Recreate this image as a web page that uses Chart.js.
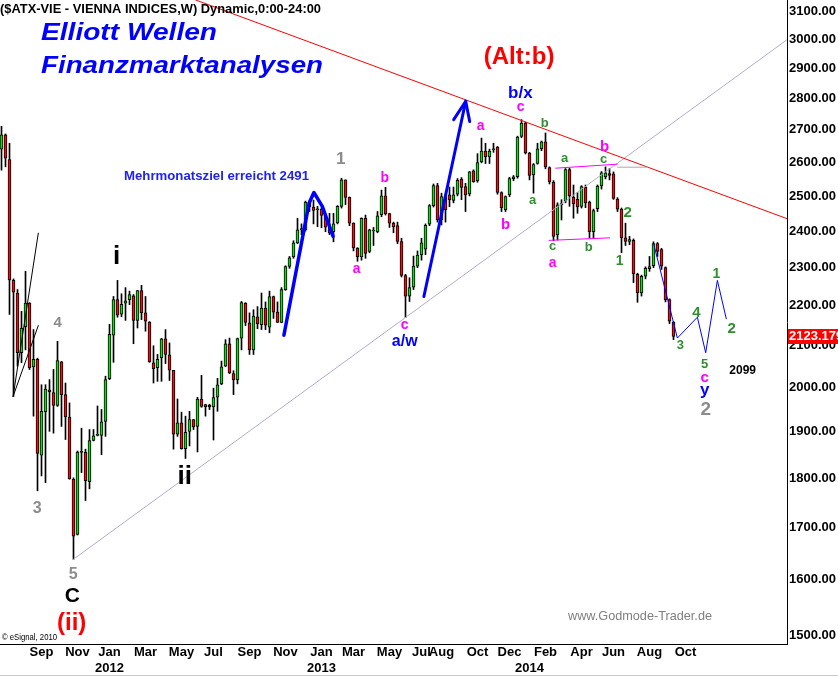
<!DOCTYPE html>
<html>
<head>
<meta charset="utf-8">
<script src="https://cdn.jsdelivr.net/npm/chart.js@4.4.1/dist/chart.umd.min.js"></script>
<style>
  html, body { margin: 0; padding: 0; background: #fff; }
  #wrap { width: 838px; height: 677px; position: relative; }
</style>
</head>
<body>
<div id="wrap"><canvas id="chart"></canvas></div>
<script>
"use strict";

// weekly ATX candles, first bar = week of 2011-06-27
var firstWeek = '2011-06-27';

var opens = [
    2640, 2684, 2608, 2266, 2233, 2083, 2147, 2207, 2049, 2067,
    1849, 1945, 1995, 1989, 1959, 2061, 1984, 1933, 1798, 1686,
    1856, 1855, 1793, 1881, 1892, 1892, 1923, 2021, 2126, 2216,
    2179, 2207, 2216, 2226, 2163, 2239, 2182, 2159, 2059, 2047,
    2071, 2117, 2078, 2041, 1895, 1920, 1863, 1901, 1927, 1912,
    1974, 1961, 1960, 1956, 1978, 2009, 2051, 2105, 2033, 2018,
    2119, 2207, 2157, 2090, 2172, 2152, 2194, 2146, 2224, 2184,
    2158, 2242, 2303, 2329, 2367, 2403, 2403, 2482, 2468, 2460,
    2462, 2441, 2408, 2398, 2423, 2470, 2547, 2496, 2422, 2353,
    2329, 2436, 2344, 2400, 2398, 2446, 2500, 2449, 2422, 2415,
    2371, 2279, 2225, 2248, 2304, 2334, 2350, 2419, 2472, 2530,
    2431, 2498, 2503, 2487, 2505, 2549, 2527, 2506, 2574, 2544,
    2601, 2634, 2616, 2638, 2646, 2510, 2460, 2503, 2551, 2557,
    2679, 2721, 2628, 2562, 2596, 2641, 2662, 2584, 2540, 2389,
    2474, 2485, 2578, 2496, 2490, 2470, 2525, 2482, 2398, 2463,
    2529, 2556, 2566, 2565, 2491, 2462, 2381, 2371, 2374, 2282,
    2233, 2277, 2297, 2305, 2365, 2349, 2300, 2216, 2158
];
var highs = [
    2711, 2687, 2658, 2270, 2242, 2186, 2290, 2208, 2140, 2070,
    2007, 2007, 2019, 2043, 2111, 2062, 2011, 1965, 1801, 1858,
    1908, 1862, 1905, 1905, 1958, 1950, 2027, 2153, 2224, 2266,
    2231, 2247, 2238, 2229, 2240, 2253, 2224, 2160, 2100, 2079,
    2118, 2140, 2107, 2041, 1974, 1944, 1935, 1946, 1928, 1978,
    2029, 1962, 1962, 1999, 2022, 2063, 2115, 2119, 2040, 2119,
    2211, 2208, 2182, 2190, 2198, 2233, 2210, 2238, 2225, 2210,
    2247, 2305, 2330, 2373, 2436, 2420, 2485, 2488, 2488, 2470,
    2466, 2441, 2450, 2450, 2472, 2552, 2547, 2497, 2423, 2354,
    2437, 2445, 2405, 2410, 2455, 2517, 2525, 2450, 2425, 2425,
    2380, 2282, 2273, 2331, 2345, 2380, 2420, 2475, 2535, 2537,
    2508, 2505, 2526, 2526, 2551, 2554, 2537, 2572, 2577, 2626,
    2674, 2658, 2640, 2658, 2648, 2512, 2500, 2555, 2560, 2680,
    2732, 2724, 2630, 2596, 2658, 2665, 2690, 2586, 2545, 2480,
    2489, 2581, 2582, 2532, 2510, 2530, 2532, 2485, 2462, 2532,
    2572, 2586, 2581, 2571, 2495, 2465, 2422, 2385, 2378, 2285,
    2280, 2302, 2330, 2370, 2368, 2352, 2302, 2218, 2160
];
var lows = [
    2576, 2586, 2178, 1980, 2051, 2059, 2090, 2043, 1935, 1774,
    1805, 1791, 1901, 1897, 1957, 1912, 1883, 1798, 1638, 1685,
    1812, 1754, 1778, 1880, 1891, 1850, 1890, 2019, 2060, 2171,
    2172, 2163, 2203, 2105, 2144, 2165, 2136, 2060, 2011, 2015,
    2015, 2057, 2017, 1862, 1890, 1862, 1842, 1869, 1905, 1856,
    1955, 1935, 1950, 1882, 1946, 2007, 2050, 2033, 1984, 2009,
    2090, 2150, 2079, 2079, 2142, 2140, 2140, 2132, 2168, 2158,
    2157, 2240, 2298, 2325, 2365, 2390, 2400, 2455, 2420, 2412,
    2409, 2398, 2390, 2370, 2420, 2465, 2475, 2415, 2345, 2317,
    2320, 2325, 2340, 2360, 2395, 2440, 2445, 2410, 2395, 2365,
    2275, 2170, 2211, 2242, 2300, 2320, 2335, 2415, 2468, 2425,
    2417, 2425, 2469, 2480, 2500, 2489, 2455, 2500, 2540, 2540,
    2598, 2596, 2596, 2630, 2505, 2455, 2455, 2498, 2545, 2552,
    2675, 2625, 2547, 2508, 2594, 2635, 2580, 2535, 2373, 2375,
    2431, 2480, 2470, 2436, 2450, 2465, 2466, 2381, 2381, 2455,
    2520, 2550, 2547, 2490, 2455, 2340, 2360, 2362, 2260, 2209,
    2225, 2270, 2290, 2300, 2330, 2295, 2210, 2155, 2115
];
var closes = [
    2684, 2612, 2267, 2235, 2083, 2144, 2207, 2047, 2067, 1853,
    1946, 1997, 1990, 1959, 2064, 1984, 1933, 1799, 1683, 1856,
    1855, 1795, 1881, 1891, 1894, 1922, 2019, 2128, 2216, 2176,
    2204, 2213, 2229, 2163, 2239, 2182, 2161, 2061, 2045, 2067,
    2117, 2079, 2041, 1895, 1920, 1863, 1899, 1927, 1911, 1974,
    1957, 1956, 1956, 1977, 2007, 2049, 2105, 2035, 2018, 2118,
    2208, 2158, 2090, 2174, 2155, 2194, 2151, 2224, 2184, 2158,
    2242, 2303, 2326, 2367, 2403, 2407, 2482, 2468, 2458, 2462,
    2444, 2411, 2395, 2420, 2470, 2547, 2496, 2422, 2353, 2329,
    2436, 2338, 2403, 2402, 2443, 2500, 2449, 2422, 2412, 2371,
    2279, 2225, 2247, 2304, 2334, 2367, 2416, 2472, 2530, 2431,
    2498, 2460, 2489, 2503, 2546, 2525, 2503, 2571, 2542, 2599,
    2634, 2616, 2634, 2641, 2510, 2466, 2498, 2551, 2556, 2677,
    2721, 2628, 2560, 2593, 2641, 2662, 2586, 2542, 2385, 2474,
    2478, 2578, 2500, 2477, 2468, 2527, 2480, 2398, 2458, 2529,
    2568, 2568, 2560, 2493, 2462, 2381, 2371, 2376, 2284, 2233,
    2277, 2299, 2303, 2365, 2344, 2304, 2216, 2161, 2123.179
];

var priceTicks = [1500, 1600, 1700, 1800, 1900, 2000, 2100, 2200, 2300, 2400,
                  2500, 2600, 2700, 2800, 2900, 3000, 3100];

var tickDates = ['2011-09-05', '2011-11-07', '2012-01-02', '2012-03-05', '2012-05-07',
                 '2012-07-02', '2012-09-03', '2012-11-05', '2013-01-07', '2013-03-04',
                 '2013-05-06', '2013-07-01', '2013-08-05', '2013-10-07', '2013-12-02',
                 '2014-01-06', '2014-02-03', '2014-04-07', '2014-06-02', '2014-08-04',
                 '2014-10-06'];
var tickMonths = ['Sep', 'Nov', 'Jan', 'Mar', 'May', 'Jul', 'Sep', 'Nov', 'Jan', 'Mar',
                  'May', 'Jul', 'Aug', 'Oct', 'Dec', '', 'Feb', 'Apr', 'Jun', 'Aug', 'Oct'];
var tickYears = ['', '', '2012', '', '', '', '', '', '2013', '',
                 '', '', '', '', '', '2014', '', '', '', '', ''];

// drawn lines, points as [week, price]
var redTrend = [[48.55, 3140], [196.55, 2434]];
var baseTrend = [[17.95, 1638], [196.55, 3000]];
var wedgeUpper = [[2.9, 1980], [9.2, 2394]];
var wedgeLower = [[2.9, 1980], [9.2, 2150]];
var targetArch = [[70.6, 2126], [76.9, 2479], [78.1, 2510], [80.2, 2470], [82.9, 2385]];
var rallyArrow = [[105.6, 2224], [116.05, 2791]];
var arrowHead = [[113.05, 2732], [116.05, 2791], [117.05, 2726]];
var forecast = [[163.1, 2362], [168.97, 2119], [173.97, 2171], [176.05, 2083], [178.97, 2266], [181.2, 2167]];
var rangeTop = [[138.55, 2582], [153.95, 2594]];
var rangeTopExt = [[154.05, 2585], [161.55, 2585]];
var rangeBottom = [[136.9, 2374], [152.05, 2381]];

var lastPrice = 2123.179;

// wave labels: text, week, price, size, colour
var MAG = '#ff00ff', GRN = '#2f8f2f', GRY = '#8c8c8c', BLU = '#0000ff';
var waveLabels = [
    ['(Alt:b)', 129.4, 2936, 24, '#ff0000'],
    ['b/x', 129.7, 2817, 17, BLU],
    ['c', 129.8, 2771, 14, MAG],
    ['1', 84.8, 2609, 17, GRY],
    ['b', 95.8, 2553, 14, MAG],
    ['a', 88.8, 2297, 14, MAG],
    ['c', 100.8, 2152, 14, MAG],
    ['a/w', 100.8, 2110, 16, BLU],
    ['a', 119.8, 2710, 14, MAG],
    ['b', 126.05, 2417, 15, MAG],
    ['b', 135.8, 2719, 13, GRN],
    ['a', 132.8, 2486, 13, GRN],
    ['c', 137.8, 2357, 13, GRN],
    ['a', 137.8, 2311, 14, MAG],
    ['a', 140.8, 2612, 13, GRN],
    ['b', 150.8, 2647, 15, MAG],
    ['c', 150.55, 2609, 13, GRN],
    ['b', 146.8, 2354, 13, GRN],
    ['2', 156.55, 2451, 15, GRN],
    ['1', 154.55, 2316, 14, GRN],
    ['3', 169.7, 2100, 13, GRN],
    ['4', 173.7, 2182, 15, GRN],
    ['1', 178.7, 2282, 14, GRN],
    ['2', 182.55, 2141, 15, GRN],
    ['5', 175.8, 2054, 13, GRN],
    ['c', 175.8, 2023, 15, MAG],
    ['y', 175.8, 1993, 17, BLU],
    ['2', 176.05, 1950, 19, GRY],
    ['2099', 185.3, 2040, 12, '#000000'],
    ['4', 14.05, 2158, 15, GRY],
    ['i', 28.8, 2329, 26, '#000000'],
    ['3', 8.9, 1737, 16, GRY],
    ['5', 17.9, 1609, 16, GRY],
    ['C', 17.7, 1570, 21, '#000000'],
    ['(ii)', 17.55, 1521, 24, '#ff0000'],
    ['ii', 45.8, 1804, 26, '#000000']
];

var FONT = '"Liberation Sans", Arial, sans-serif';

function weekIndex(d) {
    return Math.round((Date.parse(d) - Date.parse(firstWeek)) / (7 * 86400000));
}

var tickWeeks = tickDates.map(weekIndex);
var tickLabels = tickMonths.map(function (m, i) {
    return tickYears[i] ? [m, tickYears[i]] : m;
});

var bodies = [], wicks = [], bodyColors = [];
for (var i = 0; i < closes.length; i++) {
    bodies.push({ x: i, y: [Math.min(opens[i], closes[i]), Math.max(opens[i], closes[i])] });
    wicks.push({ x: i, y: [lows[i], highs[i]] });
    bodyColors.push(closes[i] >= opens[i] ? '#11dd11' : '#ee1111');
}

function drawText(ctx, s, x, y, font, color, opts) {
    opts = opts || {};
    ctx.save();
    ctx.font = font;
    ctx.fillStyle = color;
    ctx.textAlign = opts.align || 'center';
    ctx.textBaseline = opts.baseline || 'middle';
    if (opts.width) {
        var w = ctx.measureText(s).width;
        ctx.translate(x, y);
        ctx.scale(opts.width / w, 1);
        ctx.fillText(s, 0, 0);
    } else {
        ctx.fillText(s, x, y);
    }
    ctx.restore();
}

var annotate = {
    id: 'annotate',
    afterDatasetsDraw: function (chart) {
        var ctx = chart.ctx, a = chart.chartArea;
        var xs = chart.scales.x, ys = chart.scales.y;

        function poly(pts, color, width) {
            ctx.beginPath();
            pts.forEach(function (p, k) {
                var px = xs.getPixelForValue(p[0]), py = ys.getPixelForValue(p[1]);
                if (k === 0) ctx.moveTo(px, py); else ctx.lineTo(px, py);
            });
            ctx.strokeStyle = color;
            ctx.lineWidth = width;
            ctx.stroke();
        }

        ctx.save();
        ctx.beginPath();
        ctx.rect(a.left, a.top, a.right - a.left, a.bottom - a.top);
        ctx.clip();
        ctx.lineJoin = 'round';
        ctx.lineCap = 'round';

        poly(baseTrend, '#b9a9c9', 1);
        poly(redTrend, '#ff0000', 1);
        poly(wedgeUpper, '#000000', 1);
        poly(wedgeLower, '#000000', 1);
        poly(rangeTop, MAG, 1);
        poly(rangeBottom, MAG, 1);
        poly(rangeTopExt, '#a8a8a8', 1);
        poly(targetArch, BLU, 3.5);
        poly(rallyArrow, BLU, 3);
        poly(arrowHead, BLU, 3);
        poly(forecast, BLU, 1);

        waveLabels.forEach(function (l) {
            drawText(ctx, l[0], xs.getPixelForValue(l[1]), ys.getPixelForValue(l[2]),
                'bold ' + l[3] + 'px ' + FONT, l[4]);
        });
        ctx.restore();

        drawText(ctx, '($ATX-VIE - VIENNA INDICES,W) Dynamic,0:00-24:00', 0, 13,
            'bold 13px ' + FONT, '#000000', { align: 'left', baseline: 'alphabetic', width: 321 });
        drawText(ctx, 'Elliott Wellen', 41, 40,
            'italic bold 23px ' + FONT, '#0000ff', { align: 'left', baseline: 'alphabetic', width: 176 });
        drawText(ctx, 'Finanzmarktanalysen', 41, 72.7,
            'italic bold 23px ' + FONT, '#0000ff', { align: 'left', baseline: 'alphabetic', width: 282 });
        drawText(ctx, 'Mehrmonatsziel erreicht 2491', 124, 180,
            'bold 13px ' + FONT, '#2222ee', { align: 'left', baseline: 'alphabetic', width: 185 });
        drawText(ctx, 'www.Godmode-Trader.de', 568, 620,
            '13px ' + FONT, '#808080', { align: 'left', baseline: 'alphabetic', width: 144 });
        drawText(ctx, '\u00a9 eSignal, 2010', 2, 640,
            '9px ' + FONT, '#000000', { align: 'left', baseline: 'alphabetic', width: 55 });
    },
    afterDraw: function (chart) {
        var ctx = chart.ctx, ys = chart.scales.y;
        var y = ys.getPixelForValue(lastPrice);
        ctx.save();
        ctx.fillStyle = '#ff0000';
        ctx.fillRect(ys.left + 1, Math.round(y) - 7, ys.width, 15);
        ctx.restore();
        drawText(ctx, lastPrice.toFixed(3), ys.left + 2, y + 0.5, 'bold 13px ' + FONT, '#ffffff',
            { align: 'left' });
        ctx.save();
        ctx.strokeStyle = '#c8c8c8';
        ctx.beginPath();
        ctx.moveTo(0, 675.5);
        ctx.lineTo(838, 675.5);
        ctx.stroke();
        ctx.restore();
    }
};

var axisFont = { family: FONT, size: 13, weight: 'bold', lineHeight: 1.2 };

new Chart(document.getElementById('chart').getContext('2d'), {
    type: 'bar',
    data: {
        datasets: [
            {
                data: bodies,
                backgroundColor: bodyColors,
                borderColor: '#000000',
                borderWidth: 1,
                borderSkipped: false,
                barThickness: 3,
                minBarLength: 1,
                grouped: false,
                order: 1
            },
            {
                data: wicks,
                backgroundColor: '#000000',
                borderWidth: 0,
                barThickness: 1,
                grouped: false,
                order: 2
            }
        ]
    },
    options: {
        responsive: true,
        maintainAspectRatio: false,
        animation: false,
        events: [],
        layout: { padding: 0 },
        plugins: { legend: { display: false }, tooltip: { enabled: false } },
        scales: {
            x: {
                type: 'linear',
                min: -0.375,
                max: 196.375,
                bounds: 'data',
                offset: false,
                grid: { display: false, drawTicks: false },
                border: { display: true, color: '#000000', width: 1 },
                afterBuildTicks: function (s) {
                    s.ticks = tickWeeks.map(function (v) { return { value: v }; });
                },
                ticks: {
                    autoSkip: false,
                    maxRotation: 0,
                    minRotation: 0,
                    padding: 1,
                    color: '#000000',
                    font: axisFont,
                    callback: function (v, i) { return tickLabels[i]; }
                },
                afterFit: function (s) {
                    s.height = 33;
                    s.paddingLeft = 0;
                    s.paddingRight = 0;
                }
            },
            y: {
                type: 'logarithmic',
                position: 'right',
                min: 1484.4,
                max: 3140,
                bounds: 'data',
                grid: { display: false, drawTicks: false },
                border: { display: true, color: '#000000', width: 1 },
                afterBuildTicks: function (s) {
                    s.ticks = priceTicks.map(function (v) { return { value: v }; });
                },
                ticks: {
                    autoSkip: false,
                    padding: 2,
                    color: '#000000',
                    font: axisFont,
                    callback: function (v) { return Number(v).toFixed(2); }
                },
                afterFit: function (s) {
                    s.width = 51;
                    s.paddingTop = 0;
                    s.paddingBottom = 0;
                }
            }
        }
    },
    plugins: [annotate]
});
</script>
</body>
</html>
